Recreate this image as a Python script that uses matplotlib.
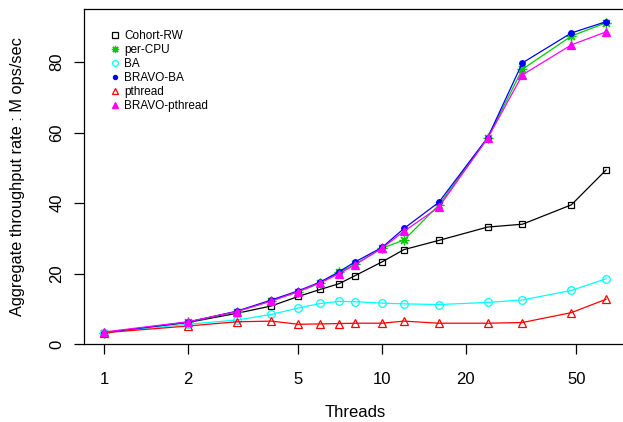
import matplotlib
matplotlib.use("Agg")
import matplotlib.pyplot as plt

plt.rcParams["font.family"] = ["Liberation Sans", "DejaVu Sans"]

threads = [1, 2, 3, 4, 5, 6, 7, 8, 10, 12, 16, 24, 32, 48, 64]

cohort_rw = [3.2, 6.1, 8.7, 10.8, 13.5, 15.5, 17.1, 19.4, 23.3, 26.8, 29.4, 33.2, 34.0, 39.5, 49.4]
per_cpu = [3.2, 6.2, 9.2, 12.3, 14.8, 17.3, 20.3, 22.6, 27.2, 29.5, 39.4, 58.5, 78.0, 87.4, 91.2]
ba = [3.2, 5.6, 6.8, 8.4, 10.2, 11.5, 12.1, 12.0, 11.6, 11.4, 11.2, 11.8, 12.5, 15.2, 18.5]
bravo_ba = [3.2, 6.2, 9.3, 12.5, 15.1, 17.6, 20.5, 23.3, 27.4, 32.8, 40.2, 58.6, 79.8, 88.3, 91.5]
pthread = [3.2, 5.1, 6.3, 6.5, 5.6, 5.7, 5.8, 5.9, 5.9, 6.5, 5.9, 5.9, 6.1, 8.9, 12.7]
bravo_pthread = [3.4, 6.3, 9.2, 12.2, 14.9, 17.4, 19.9, 22.5, 27.2, 32.0, 38.8, 58.4, 76.4, 84.9, 88.6]

series = [
    ("Cohort-RW", cohort_rw, "black", dict(marker="s", markerfacecolor="none", markersize=5)),
    ("per-CPU", per_cpu, "#00CD00", dict(marker=(8, 2, 0), markersize=7)),
    ("BA", ba, "cyan", dict(marker="o", markerfacecolor="none", markersize=5.5)),
    ("BRAVO-BA", bravo_ba, "blue", dict(marker="o", markersize=4)),
    ("pthread", pthread, "red", dict(marker="^", markerfacecolor="none", markersize=6)),
    ("BRAVO-pthread", bravo_pthread, "magenta", dict(marker="^", markersize=6)),
]

fig = plt.figure(figsize=(6.23, 4.22), dpi=100)
ax = fig.add_axes([84 / 623, 1 - 344 / 422, 542 / 623, 335 / 422])

for name, vals, col, mk in series:
    ax.plot(threads, vals, color=col, lw=0.9, markeredgewidth=0.9,
            markeredgecolor=col, label=name, **mk)

ax.set_xscale("log")
ax.set_xlim(0.847, 75.5)
ax.set_ylim(0, 95.1)
ax.set_xticks([1, 2, 5, 10, 20, 50])
ax.set_xticklabels(["1", "2", "5", "10", "20", "50"])
ax.minorticks_off()
ax.set_yticks([0, 20, 40, 60, 80])
ax.set_yticklabels(["0", "20", "40", "60", "80"], rotation=90, va="center")

ax.tick_params(direction="out", length=7, width=0.9, labelsize=12, color="black")
ax.tick_params(axis="x", pad=13)
ax.tick_params(axis="y", pad=7)
for s in ax.spines.values():
    s.set_linewidth(0.9)

ax.set_xlabel("Threads", fontsize=12)
ax.xaxis.set_label_coords(0.5, -0.183)
ax.set_ylabel("Aggregate throughput rate : M ops/sec", fontsize=11.8)
ax.yaxis.set_label_coords(-0.109, 0.5)

ax.legend(loc="upper left", bbox_to_anchor=(0.027, 0.968), frameon=False,
          fontsize=8.5, handlelength=1.0, handletextpad=0.26, labelspacing=0.16,
          markerscale=0.75)
for h in ax.get_legend().get_lines():
    h.set_linestyle("none")

fig.savefig("out.png", dpi=100)
